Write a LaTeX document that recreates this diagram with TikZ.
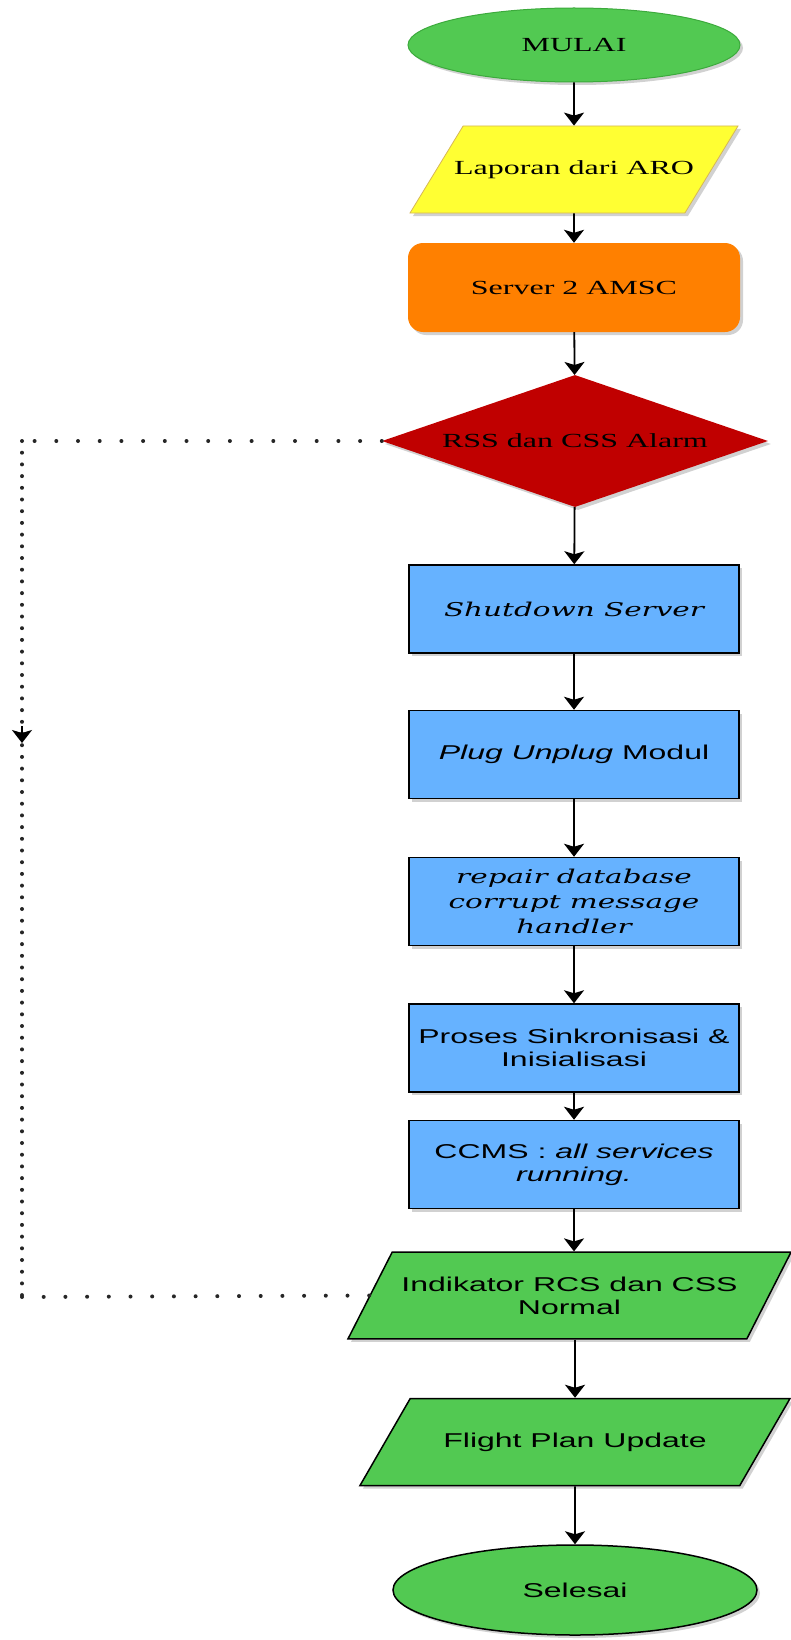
\documentclass[tikz,border=0pt]{standalone}
\usepackage{fontspec}
\setmainfont[FakeStretch=1.6]{Liberation Serif}
\setsansfont[FakeStretch=1.6]{Liberation Sans}
\newfontfamily\callifont[FakeStretch=1.55]{DejaVu Serif}
\usetikzlibrary{shapes.geometric,arrows.meta,shadows}

\definecolor{startgreen}{RGB}{82,201,82}
\definecolor{startborder}{RGB}{60,170,60}
\definecolor{aroyellow}{RGB}{255,255,51}
\definecolor{aroborder}{RGB}{214,182,86}
\definecolor{amscorange}{RGB}{255,128,0}
\definecolor{alarmred}{RGB}{192,0,0}
\definecolor{procblue}{RGB}{102,178,255}

\tikzset{
  softshadow/.style={drop shadow={shadow xshift=3pt, shadow yshift=-3pt, opacity=0.18, fill=black}},
  base/.style={align=center, inner sep=2pt, font=\fontsize{20}{24}\selectfont, softshadow},
  sanstext/.style={font=\sffamily\fontsize{20}{23}\selectfont},
  callitext/.style={font=\callifont\itshape\fontsize{19}{25}\selectfont},
  terminal/.style={base, ellipse, fill=startgreen, minimum width=332pt, minimum height=74pt},
  datain/.style={base, trapezium, trapezium stretches body, trapezium left angle=60,
    trapezium right angle=120, text height=14.5pt, text depth=4.5pt, inner ysep=34pt},
  procbox/.style={base, rectangle, draw=black, line width=1.5pt, fill=procblue,
    minimum width=330pt, minimum height=88pt},
  flow/.style={line width=1.8pt, -{Stealth[length=13pt,width=20pt,inset=3pt]}},
  hdots/.style={line width=4pt, line cap=round, draw=black!85, dash pattern=on 0pt off 21.7pt},
  vdots/.style={line width=4pt, line cap=round, draw=black!85, dash pattern=on 0pt off 11.7pt},
}

\begin{document}
\begin{tikzpicture}[x=1pt, y=-1pt]
  \useasboundingbox (0,0) rectangle (791,1640);

  % main column
  \node[terminal, draw=startborder, line width=1pt] (mulai) at (574,45) {MULAI};
  \node[datain, fill=aroyellow, draw=aroborder, line width=0.8pt, trapezium left angle=58.6,
    trapezium right angle=121.4, minimum width=328pt] (laporan) at (574,169.5) {\makebox[200pt]{Laporan dari ARO}};
  \node[base, rounded corners=15pt, fill=amscorange, minimum width=332pt, minimum height=89pt] (server) at (574,287.5) {Server 2 AMSC};
  \node[base, diamond, aspect=2.9, inner sep=0pt, fill=alarmred, minimum width=386pt, minimum height=132pt] (alarm) at (575,441) {RSS dan CSS Alarm};
  \node[procbox, callitext] (shutdown) at (574,609) {Shutdown Server};
  \node[procbox, sanstext] (plug) at (574,754.5) {\textit{Plug Unplug} Modul};
  \node[procbox, callitext] (repair) at (574,901.5) {repair database\\corrupt message\\handler};
  \node[procbox, sanstext] (sinkron) at (574,1048) {Proses Sinkronisasi \&\\Inisialisasi};
  \node[procbox, sanstext] (ccms) at (574,1164.5) {CCMS : \textit{all services}\\\textit{running.}};
  \node[datain, sanstext, fill=startgreen, draw=black, line width=1.5pt, trapezium left angle=63,
    trapezium right angle=117, text height=, text depth=, inner ysep=24.5pt, minimum width=443pt] (indikator) at (569.5,1295.5) {Indikator RCS dan CSS\\Normal};
  \node[datain, sanstext, fill=startgreen, draw=black, line width=1.5pt, minimum width=430pt] (flight) at (575,1442) {Flight Plan Update};
  \node[terminal, sanstext, draw=black, line width=1.5pt, minimum width=364pt, minimum height=90pt] (selesai) at (575,1590) {Selesai};

  % arrows
  \draw[flow] (mulai) -- (laporan);
  \draw[flow] (laporan) -- (server);
  \draw[flow] (server) -- (alarm);
  \draw[flow] (alarm) -- (shutdown);
  \draw[flow] (shutdown) -- (plug);
  \draw[flow] (plug) -- (repair);
  \draw[flow] (repair) -- (sinkron);
  \draw[flow] (sinkron) -- (ccms);
  \draw[flow] (ccms.south) -- (ccms.south |- indikator.north);
  \draw[flow] (indikator.south -| flight.north) -- (flight.north);
  \draw[flow] (flight) -- (selesai);

  % dotted bypass
  \coordinate (loopa) at (22,441);
  \coordinate (loopb) at (22,1297);
  \coordinate (looparr) at (22,743);
  \draw[hdots] (alarm.west) -- (loopa);
  \draw[vdots] (loopa) -- (loopb);
  \draw[hdots] (loopb) -- (indikator.west);
  \draw[flow] ([yshift=17pt]looparr) -- (looparr);
\end{tikzpicture}
\end{document}
